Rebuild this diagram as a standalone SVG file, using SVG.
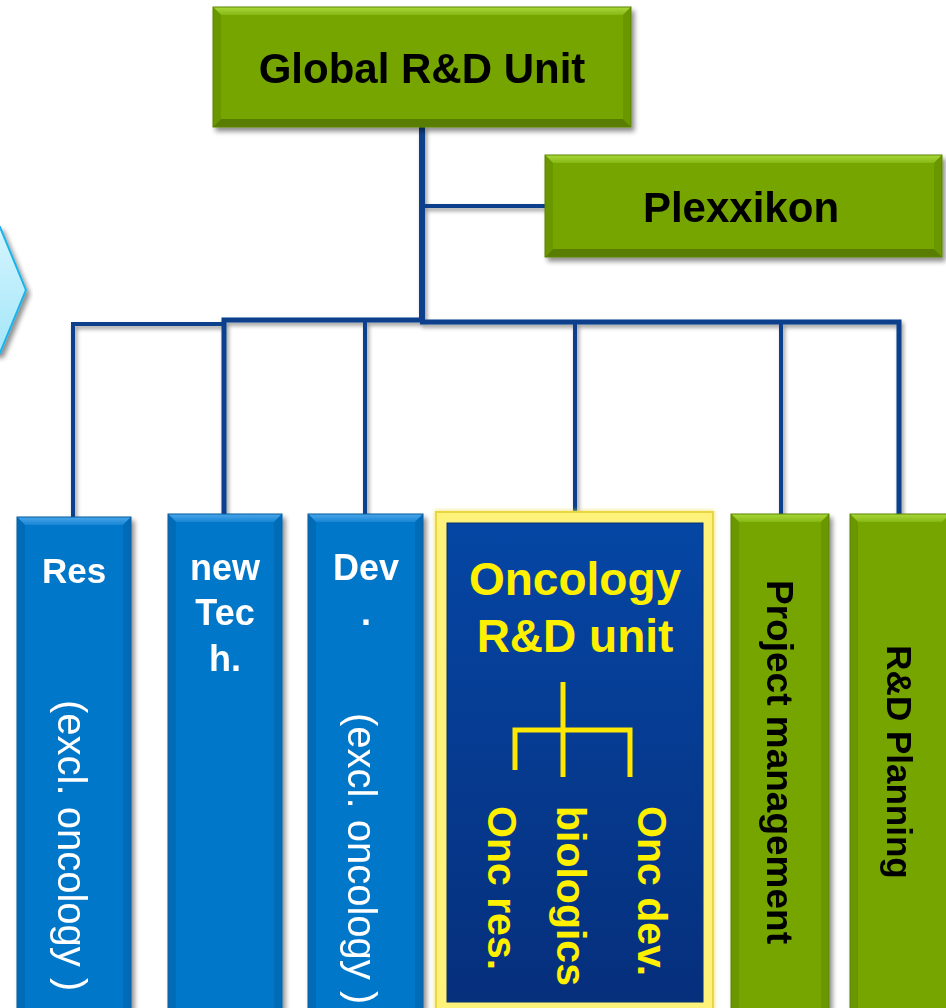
<svg xmlns="http://www.w3.org/2000/svg" width="946" height="1008" viewBox="0 0 946 1008">
  <defs>
    <filter id="shadow" x="-10%" y="-10%" width="130%" height="130%">
      <feGaussianBlur in="SourceAlpha" stdDeviation="2.5"/>
      <feOffset dx="3" dy="4" result="b"/>
      <feComponentTransfer><feFuncA type="linear" slope="0.45"/></feComponentTransfer>
      <feMerge><feMergeNode/><feMergeNode in="SourceGraphic"/></feMerge>
    </filter>
    <filter id="lineShadow" x="-20%" y="-20%" width="140%" height="140%">
      <feGaussianBlur in="SourceAlpha" stdDeviation="2"/>
      <feOffset dx="2" dy="3" result="b"/>
      <feComponentTransfer><feFuncA type="linear" slope="0.4"/></feComponentTransfer>
      <feMerge><feMergeNode/><feMergeNode in="SourceGraphic"/></feMerge>
    </filter>
    <filter id="glow" x="-10%" y="-10%" width="120%" height="120%">
      <feGaussianBlur in="SourceGraphic" stdDeviation="2"/>
      <feMerge><feMergeNode/><feMergeNode in="SourceGraphic"/></feMerge>
    </filter>
    <linearGradient id="chevronFill" x1="0" y1="0" x2="0" y2="1">
      <stop offset="0" stop-color="#d4f5fe"/>
      <stop offset="1" stop-color="#a4e6f9"/>
    </linearGradient>
    <linearGradient id="oncFill" x1="0" y1="0" x2="0" y2="1">
      <stop offset="0" stop-color="#0546a4"/>
      <stop offset="1" stop-color="#062f7c"/>
    </linearGradient>
    <linearGradient id="greenTop" x1="0" y1="0" x2="0" y2="1">
      <stop offset="0" stop-color="#a9d93a"/>
      <stop offset="1" stop-color="#86b816"/>
    </linearGradient>
    <linearGradient id="blueTop" x1="0" y1="0" x2="0" y2="1">
      <stop offset="0" stop-color="#4aa6ea"/>
      <stop offset="1" stop-color="#1785d4"/>
    </linearGradient>
  </defs>
  <style>
    .green { fill: #76a506; }
    .green-top { fill: url(#greenTop); }
    .green-side { fill: #6b9605; }
    .green-bot { fill: #587d04; }
    .blue { fill: #0677c8; }
    .blue-top { fill: url(#blueTop); }
    .blue-side { fill: #066cb8; }
    .edge-g { fill: none; stroke: #5d8405; stroke-width: 1; }
    .edge-b { fill: none; stroke: #0a5a9c; stroke-width: 1; }
    .conn { fill: none; stroke: #0a3f8c; stroke-linejoin: miter; }
    .t { font-family: "Liberation Sans", Arial, sans-serif; }
    .bold { font-weight: bold; }
    .black { fill: #000000; }
    .white { fill: #ffffff; }
    .yellow { fill: #fff000; }
    .tree { fill: none; stroke: #ffe800; stroke-width: 5; }
  </style>

  <!-- side chevron -->
  <g id="chevron" filter="url(#shadow)">
    <polygon points="-6,227 0,227 26,290 0,353 -6,353" fill="url(#chevronFill)" stroke="#1ab2ea" stroke-width="2"/>
  </g>

  <!-- connectors -->
  <g id="connectors" filter="url(#lineShadow)">
    <path class="conn" stroke-width="6" d="M422,127 V322"/>
    <path class="conn" stroke-width="4" d="M422,206 H545"/>
    <path class="conn" stroke-width="4" d="M73,517 V324 H226"/>
    <path class="conn" stroke-width="5" d="M224,514 V320 H424"/>
    <path class="conn" stroke-width="5" d="M420,322 H899 V514"/>
    <path class="conn" stroke-width="4" d="M365,514 V322"/>
    <path class="conn" stroke-width="4" d="M575,512 V322"/>
    <path class="conn" stroke-width="4" d="M781,514 V322"/>
  </g>

  <!-- Global R&D Unit -->
  <g id="global-rd-unit" filter="url(#shadow)">
    <rect class="green" x="213" y="7" width="418" height="120"/>
    <polygon class="green-top" points="213,7 631,7 623,15 221,15"/>
    <polygon class="green-side" points="213,7 221,15 221,119 213,127"/>
    <polygon class="green-side" points="631,7 623,15 623,119 631,127"/>
    <polygon class="green-bot" points="213,127 221,119 623,119 631,127"/>
    <rect class="edge-g" x="213" y="7" width="418" height="120"/>
    <text class="t bold black" x="422" y="83" font-size="42" text-anchor="middle">Global R&amp;D Unit</text>
  </g>

  <!-- Plexxikon -->
  <g id="plexxikon" filter="url(#shadow)">
    <rect class="green" x="545" y="155" width="397" height="102"/>
    <polygon class="green-top" points="545,155 942,155 934,163 553,163"/>
    <polygon class="green-side" points="545,155 553,163 553,249 545,257"/>
    <polygon class="green-side" points="942,155 934,163 934,249 942,257"/>
    <polygon class="green-bot" points="545,257 553,249 934,249 942,257"/>
    <rect class="edge-g" x="545" y="155" width="397" height="102"/>
    <text class="t bold black" x="741" y="222" font-size="42" text-anchor="middle">Plexxikon</text>
  </g>

  <!-- Research -->
  <g id="res" filter="url(#shadow)">
    <rect class="blue" x="17" y="517" width="114" height="500"/>
    <polygon class="blue-top" points="17,517 131,517 123,525 25,525"/>
    <polygon class="blue-side" points="17,517 25,525 25,1017 17,1017"/>
    <polygon class="blue-side" points="131,517 123,525 123,1017 131,1017"/>
    <rect class="edge-b" x="17" y="517" width="114" height="500"/>
    <text class="t bold white" x="74" y="583" font-size="35" text-anchor="middle">Res</text>
    <text class="t white" font-size="40" transform="translate(58,700) rotate(90)">(excl. oncology  )</text>
  </g>

  <!-- New technologies -->
  <g id="new-tech" filter="url(#shadow)">
    <rect class="blue" x="168" y="514" width="114" height="503"/>
    <polygon class="blue-top" points="168,514 282,514 274,522 176,522"/>
    <polygon class="blue-side" points="168,514 176,522 176,1017 168,1017"/>
    <polygon class="blue-side" points="282,514 274,522 274,1017 282,1017"/>
    <rect class="edge-b" x="168" y="514" width="114" height="503"/>
    <text class="t bold white" x="225" y="580" font-size="36" text-anchor="middle">new</text>
    <text class="t bold white" x="225" y="625" font-size="36" text-anchor="middle">Tec</text>
    <text class="t bold white" x="225" y="671" font-size="36" text-anchor="middle">h.</text>
  </g>

  <!-- Development -->
  <g id="dev" filter="url(#shadow)">
    <rect class="blue" x="308" y="514" width="115" height="503"/>
    <polygon class="blue-top" points="308,514 423,514 415,522 316,522"/>
    <polygon class="blue-side" points="308,514 316,522 316,1017 308,1017"/>
    <polygon class="blue-side" points="423,514 415,522 415,1017 423,1017"/>
    <rect class="edge-b" x="308" y="514" width="115" height="503"/>
    <text class="t bold white" x="366" y="580" font-size="36" text-anchor="middle">Dev</text>
    <text class="t bold white" x="366" y="625" font-size="36" text-anchor="middle">.</text>
    <text class="t white" font-size="40" transform="translate(348,713) rotate(90)">(excl. oncology )</text>
  </g>

  <!-- Oncology R&D unit -->
  <g id="oncology-rd-unit">
    <rect x="436" y="512" width="277" height="505" fill="#fff27a" stroke="#e9d640" stroke-width="2" filter="url(#glow)"/>
    <rect x="447" y="523" width="256" height="479" fill="url(#oncFill)" stroke="#0a2f70" stroke-width="1"/>
    <text class="t bold yellow" x="575" y="595" font-size="46" text-anchor="middle">Oncology</text>
    <text class="t bold yellow" x="575" y="652" font-size="46" text-anchor="middle">R&amp;D unit</text>
    <path class="tree" d="M563,682 V777"/>
    <path class="tree" d="M515,770 V730 H630 V777"/>
    <text class="t bold yellow" font-size="41" transform="translate(488,806) rotate(90)">Onc res.</text>
    <text class="t bold yellow" font-size="41" transform="translate(557,806) rotate(90)">biologics</text>
    <text class="t bold yellow" font-size="41" transform="translate(638,806) rotate(90)">Onc dev.</text>
  </g>

  <!-- Project management -->
  <g id="project-management" filter="url(#shadow)">
    <rect class="green" x="731" y="514" width="98" height="503"/>
    <polygon class="green-top" points="731,514 829,514 821,522 739,522"/>
    <polygon class="green-side" points="731,514 739,522 739,1017 731,1017"/>
    <polygon class="green-side" points="829,514 821,522 821,1017 829,1017"/>
    <rect class="edge-g" x="731" y="514" width="98" height="503"/>
    <text class="t bold black" font-size="37" text-anchor="middle" transform="translate(767,762) rotate(90)">Project management</text>
  </g>

  <!-- R&D Planning -->
  <g id="rd-planning" filter="url(#shadow)">
    <rect class="green" x="850" y="514" width="100" height="503"/>
    <polygon class="green-top" points="850,514 950,514 942,522 858,522"/>
    <polygon class="green-side" points="850,514 858,522 858,1017 850,1017"/>
    <rect class="edge-g" x="850" y="514" width="100" height="503"/>
    <text class="t bold black" font-size="35" text-anchor="middle" transform="translate(887,762) rotate(90)">R&amp;D Planning</text>
  </g>
</svg>
